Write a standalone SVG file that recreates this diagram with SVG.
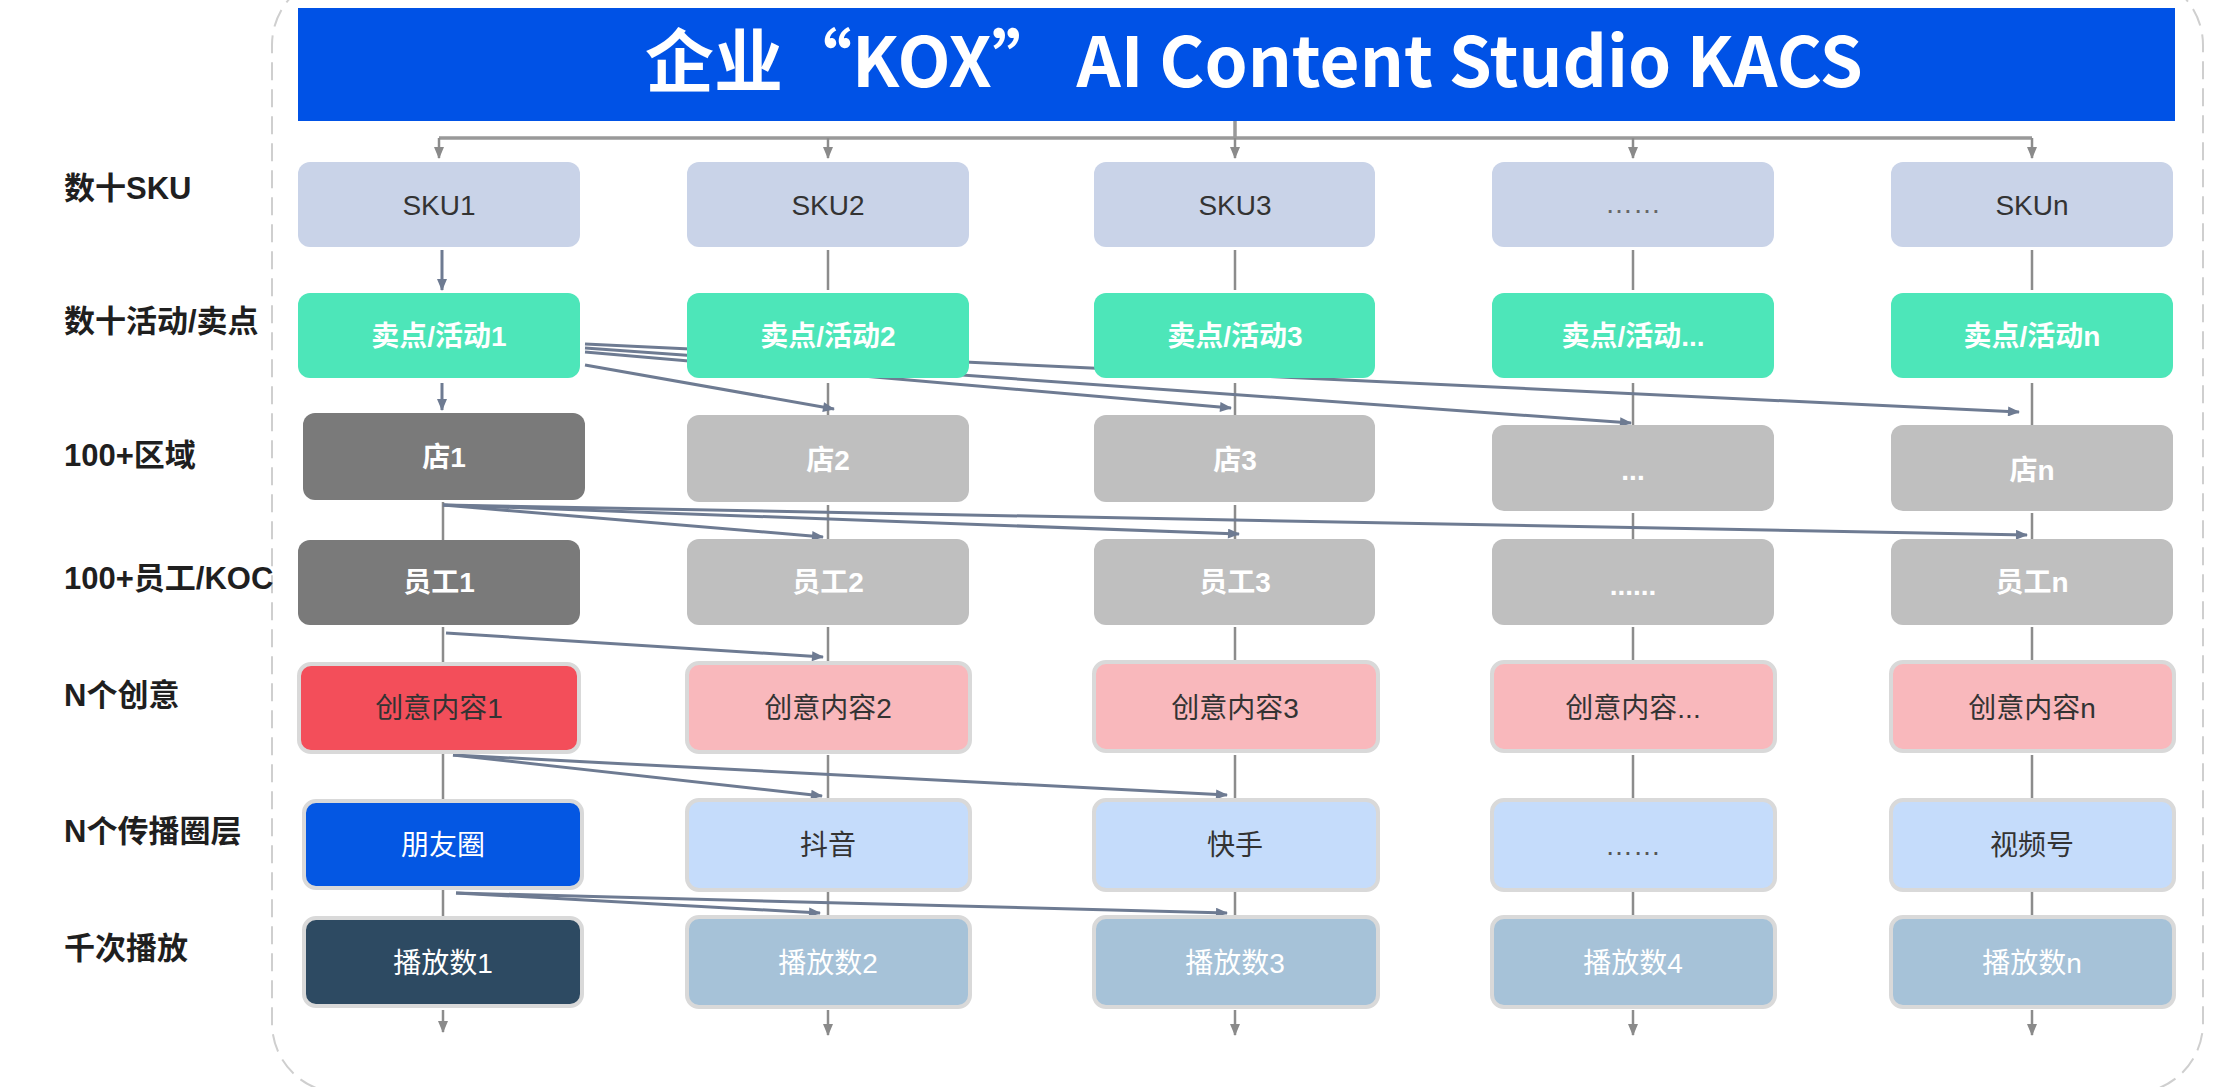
<svg xmlns="http://www.w3.org/2000/svg" width="2229" height="1087" viewBox="0 0 2229 1087">
<style>
.lbl{font-family:"Liberation Sans","Noto Sans CJK SC",sans-serif;font-weight:bold;font-size:31px;fill:#1f1f1f}
.t{font-family:"Liberation Sans","Noto Sans CJK SC",sans-serif;font-size:28px;text-anchor:middle}
.dk{fill:#333}
.wh{fill:#fff}
.b{font-weight:bold}
.sku{fill:#c9d3e8}
.sell{fill:#4de6b9}
.gd{fill:#7a7a7a}
.gl{fill:#bfbfbf}
.bd{stroke:#d9d9d9;stroke-width:4}
.v{stroke:#8c8c8c;stroke-width:2.5;fill:none}
.vt{stroke:#999;stroke-width:3.5;fill:none}
.va{stroke:#8c8c8c;stroke-width:2.5;fill:none;marker-end:url(#ag)}
.s{stroke:#6e7b92;stroke-width:3;fill:none;marker-end:url(#as)}
</style>
<defs>
<marker id="ag" viewBox="0 0 12 10" refX="11" refY="5" markerWidth="12" markerHeight="10" markerUnits="userSpaceOnUse" orient="auto"><path d="M0,0 L12,5 L0,10 z" fill="#8a8a8a"/></marker>
<marker id="as" viewBox="0 0 12 10" refX="11" refY="5" markerWidth="13" markerHeight="10" markerUnits="userSpaceOnUse" orient="auto"><path d="M0,0 L12,5 L0,10 z" fill="#6e7b92"/></marker>
<clipPath id="lc"><rect x="0" y="0" width="276" height="1087"/></clipPath>
</defs>
<rect width="2229" height="1087" fill="#fff"/>
<rect x="272" y="-25" width="1931" height="1118" rx="70" fill="none" stroke="#cfcfcf" stroke-width="2" stroke-dasharray="18 9"/>

<g id="title">
<rect x="298" y="8" width="1877" height="113" fill="#0052e6"/>
<text x="1254" y="87" text-anchor="middle" font-family="Noto Sans CJK SC, sans-serif" font-weight="bold" font-size="69" fill="#fff">企业“KOX” AI Content Studio KACS</text>
</g>

<g id="labels" clip-path="url(#lc)">
<text class="lbl" x="64" y="199">数十SKU</text>
<text class="lbl" x="64" y="332">数十活动/卖点</text>
<text class="lbl" x="64" y="466">100+区域</text>
<text class="lbl" x="64" y="589">100+员工/KOC</text>
<text class="lbl" x="64" y="706">N个创意</text>
<text class="lbl" x="64" y="842">N个传播圈层</text>
<text class="lbl" x="64" y="959">千次播放</text>
</g>

<g id="connectors">
<path class="vt" d="M1235,121 V138 M439,138 H2032"/>
<path class="va" d="M439,138 V158"/>
<path class="va" d="M828,138 V158"/>
<path class="va" d="M1235,138 V158"/>
<path class="va" d="M1633,138 V158"/>
<path class="va" d="M2032,138 V158"/>
<path class="s" d="M442,250 V290"/>
<path class="s" d="M442,383 V410"/>
<path class="v" d="M828,250 V290 M1235,250 V290 M1633,250 V290 M2032,250 V290"/>
<path class="v" d="M828,383 V415 M1235,383 V415 M1633,383 V425 M2032,383 V425"/>
<path class="v" d="M443,502 V540 M828,505 V539 M1235,505 V539 M1633,513 V539 M2032,513 V539"/>
<path class="v" d="M443,627 V664 M828,627 V662 M1235,627 V660 M1633,627 V660 M2032,627 V660"/>
<path class="v" d="M443,754 V800 M828,755 V798 M1235,755 V798 M1633,755 V798 M2032,755 V798"/>
<path class="v" d="M443,890 V916 M828,891 V916 M1235,891 V916 M1633,891 V916 M2032,891 V916"/>
<path class="va" d="M443,1010 V1032"/>
<path class="va" d="M828,1010 V1035"/>
<path class="va" d="M1235,1010 V1035"/>
<path class="va" d="M1633,1010 V1035"/>
<path class="va" d="M2032,1010 V1035"/>
<path class="s" d="M585,365 L834,409"/>
<path class="s" d="M585,352 L1231,408"/>
<path class="s" d="M585,348 L1631,423"/>
<path class="s" d="M585,344 L2019,412"/>
<path class="s" d="M443,505 L823,537"/>
<path class="s" d="M443,505 L1239,534"/>
<path class="s" d="M443,505 L2027,535"/>
<path class="s" d="M446,633 L823,657"/>
<path class="s" d="M453,755 L822,796"/>
<path class="s" d="M453,755 L1227,795"/>
<path class="s" d="M456,893 L820,913"/>
<path class="s" d="M456,893 L1227,913"/>
</g>

<g id="sku1"><rect class="sku" x="298" y="162" width="282" height="85" rx="12"/><text class="t dk" x="439" y="215">SKU1</text></g>
<g id="sku2"><rect class="sku" x="687" y="162" width="282" height="85" rx="12"/><text class="t dk" x="828" y="215">SKU2</text></g>
<g id="sku3"><rect class="sku" x="1094" y="162" width="281" height="85" rx="12"/><text class="t dk" x="1235" y="215">SKU3</text></g>
<g id="sku4"><rect class="sku" x="1492" y="162" width="282" height="85" rx="12"/><text class="t" x="1633" y="213" fill="#666" font-size="20">……</text></g>
<g id="sku5"><rect class="sku" x="1891" y="162" width="282" height="85" rx="12"/><text class="t dk" x="2032" y="215">SKUn</text></g>

<g id="sell1"><rect class="sell" x="298" y="293" width="282" height="85" rx="12"/><text class="t wh b" x="439" y="346">卖点/活动1</text></g>
<g id="sell2"><rect class="sell" x="687" y="293" width="282" height="85" rx="12"/><text class="t wh b" x="828" y="346">卖点/活动2</text></g>
<g id="sell3"><rect class="sell" x="1094" y="293" width="281" height="85" rx="12"/><text class="t wh b" x="1235" y="346">卖点/活动3</text></g>
<g id="sell4"><rect class="sell" x="1492" y="293" width="282" height="85" rx="12"/><text class="t wh b" x="1633" y="346">卖点/活动...</text></g>
<g id="sell5"><rect class="sell" x="1891" y="293" width="282" height="85" rx="12"/><text class="t wh b" x="2032" y="346">卖点/活动n</text></g>

<g id="store1"><rect class="gd" x="303" y="413" width="282" height="87" rx="12"/><text class="t wh b" x="444" y="467">店1</text></g>
<g id="store2"><rect class="gl" x="687" y="415" width="282" height="87" rx="12"/><text class="t wh b" x="828" y="470">店2</text></g>
<g id="store3"><rect class="gl" x="1094" y="415" width="281" height="87" rx="12"/><text class="t wh b" x="1235" y="470">店3</text></g>
<g id="store4"><rect class="gl" x="1492" y="425" width="282" height="86" rx="12"/><text class="t wh b" x="1633" y="480" font-size="20">...</text></g>
<g id="store5"><rect class="gl" x="1891" y="425" width="282" height="86" rx="12"/><text class="t wh b" x="2032" y="480">店n</text></g>

<g id="staff1"><rect class="gd" x="298" y="540" width="282" height="85" rx="12"/><text class="t wh b" x="439" y="592">员工1</text></g>
<g id="staff2"><rect class="gl" x="687" y="539" width="282" height="86" rx="12"/><text class="t wh b" x="828" y="592">员工2</text></g>
<g id="staff3"><rect class="gl" x="1094" y="539" width="281" height="86" rx="12"/><text class="t wh b" x="1235" y="592">员工3</text></g>
<g id="staff4"><rect class="gl" x="1492" y="539" width="282" height="86" rx="12"/><text class="t wh b" x="1633" y="595" font-size="22">......</text></g>
<g id="staff5"><rect class="gl" x="1891" y="539" width="282" height="86" rx="12"/><text class="t wh b" x="2032" y="592">员工n</text></g>

<g id="idea1"><rect class="bd" fill="#f34e5a" x="299" y="664" width="280" height="88" rx="12"/><text class="t dk" x="439" y="718">创意内容1</text></g>
<g id="idea2"><rect class="bd" fill="#f9b8bc" x="687" y="663" width="283" height="89" rx="12"/><text class="t dk" x="828" y="718">创意内容2</text></g>
<g id="idea3"><rect class="bd" fill="#f9b8bc" x="1094" y="662" width="284" height="89" rx="12"/><text class="t dk" x="1235" y="718">创意内容3</text></g>
<g id="idea4"><rect class="bd" fill="#f9b8bc" x="1492" y="662" width="283" height="89" rx="12"/><text class="t dk" x="1633" y="718">创意内容...</text></g>
<g id="idea5"><rect class="bd" fill="#f9b8bc" x="1891" y="662" width="283" height="89" rx="12"/><text class="t dk" x="2032" y="718">创意内容n</text></g>

<g id="ch1"><rect class="bd" fill="#0457e3" x="304" y="801" width="278" height="87" rx="12"/><text class="t wh" x="443" y="855">朋友圈</text></g>
<g id="ch2"><rect class="bd" fill="#c5dcfb" x="687" y="800" width="283" height="90" rx="12"/><text class="t dk" x="828" y="855">抖音</text></g>
<g id="ch3"><rect class="bd" fill="#c5dcfb" x="1094" y="800" width="284" height="90" rx="12"/><text class="t dk" x="1235" y="855">快手</text></g>
<g id="ch4"><rect class="bd" fill="#c5dcfb" x="1492" y="800" width="283" height="90" rx="12"/><text class="t" x="1633" y="855" fill="#555" font-size="20">……</text></g>
<g id="ch5"><rect class="bd" fill="#c5dcfb" x="1891" y="800" width="283" height="90" rx="12"/><text class="t dk" x="2032" y="855">视频号</text></g>

<g id="play1"><rect class="bd" fill="#2d4a62" x="304" y="918" width="278" height="88" rx="12"/><text class="t wh" x="443" y="973">播放数1</text></g>
<g id="play2"><rect class="bd" fill="#a6c2d8" x="687" y="917" width="283" height="90" rx="12"/><text class="t wh" x="828" y="973">播放数2</text></g>
<g id="play3"><rect class="bd" fill="#a6c2d8" x="1094" y="917" width="284" height="90" rx="12"/><text class="t wh" x="1235" y="973">播放数3</text></g>
<g id="play4"><rect class="bd" fill="#a6c2d8" x="1492" y="917" width="283" height="90" rx="12"/><text class="t wh" x="1633" y="973">播放数4</text></g>
<g id="play5"><rect class="bd" fill="#a6c2d8" x="1891" y="917" width="283" height="90" rx="12"/><text class="t wh" x="2032" y="973">播放数n</text></g>
</svg>
